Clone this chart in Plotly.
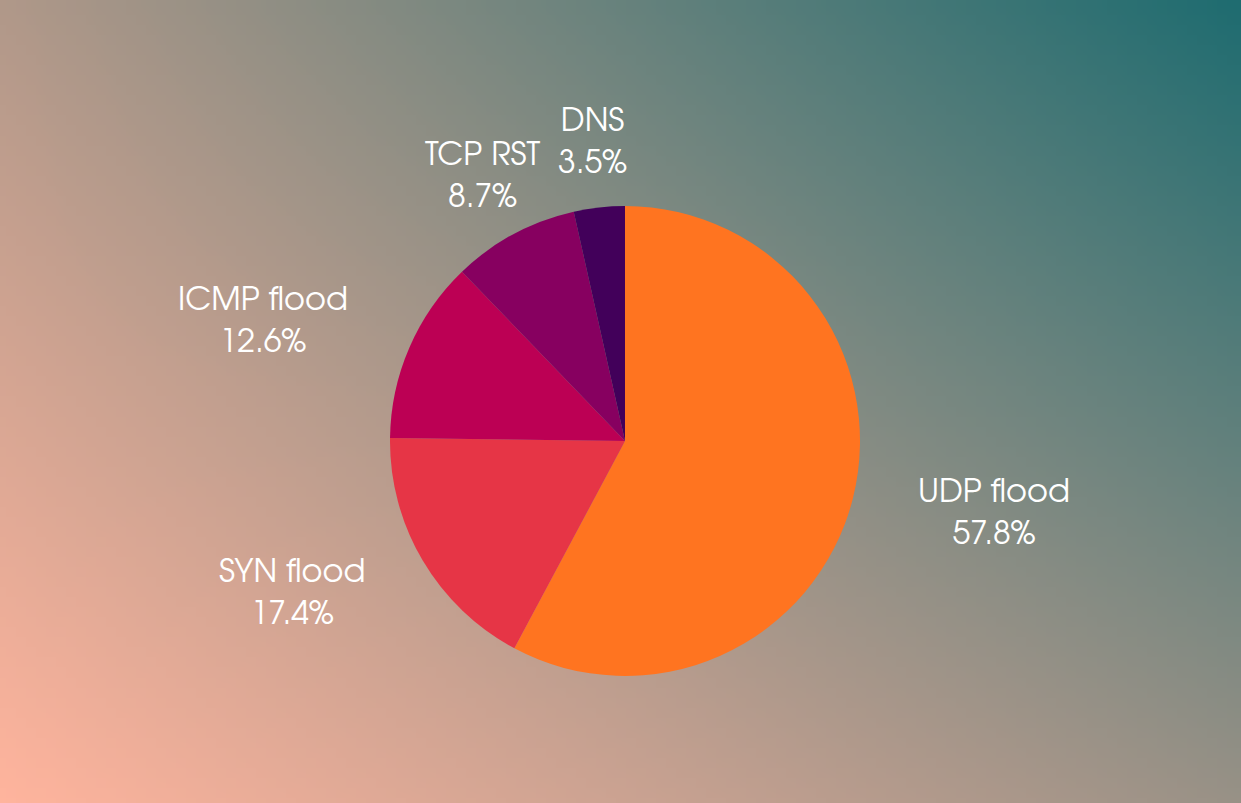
import base64
import math
import struct
import zlib

import plotly.graph_objects as go

labels = ["UDP flood", "SYN flood", "ICMP flood", "TCP RST", "DNS"]
values = [57.8, 17.4, 12.6, 8.7, 3.5]
colors = ["#FF7420", "#E63546", "#BC0054", "#870060", "#42005A"]

W, H = 1241, 803
CX, CY, R = 625, 441, 235          # pie centre / radius in px (layout)
LABEL_R = 300                       # label anchor radius in px (layout)
FONT = "Century Gothic, URW Gothic, URW Gothic L, TeX Gyre Adventor, Questrial, Lato, sans-serif"

# ---- background gradient as a small stretched PNG (bilinear corner colours) ----
corner_bl = (255, 180, 157)
corner_br = (152, 145, 134)
corner_tl = (176, 152, 137)
corner_tr = (31, 108, 112)


def make_png(w, h):
    rows = []
    for j in range(h):
        v = 1 - j / (h - 1)            # 1 at top
        row = bytearray([0])
        for i in range(w):
            u = i / (w - 1)
            px = []
            for c in range(3):
                bottom = corner_bl[c] * (1 - u) + corner_br[c] * u
                top = corner_tl[c] * (1 - u) + corner_tr[c] * u
                px.append(int(round(bottom * (1 - v) + top * v)))
            row.extend(px)
        rows.append(bytes(row))
    raw = b"".join(rows)

    def chunk(t, d):
        c = struct.pack(">I", len(d)) + t + d
        return c + struct.pack(">I", zlib.crc32(t + d) & 0xFFFFFFFF)

    png = b"\x89PNG\r\n\x1a\n"
    png += chunk(b"IHDR", struct.pack(">IIBBBBB", w, h, 8, 2, 0, 0, 0))
    png += chunk(b"IDAT", zlib.compress(raw, 9))
    png += chunk(b"IEND", b"")
    return "data:image/png;base64," + base64.b64encode(png).decode()


bg = make_png(124, 80)

fig = go.Figure()
fig.add_trace(go.Pie(
    labels=labels, values=values, sort=False, direction="clockwise", rotation=0,
    marker=dict(colors=colors, line=dict(width=0)),
    textinfo="none",
    domain=dict(x=[(CX - R) / W, (CX + R) / W], y=[1 - (CY + R) / H, 1 - (CY - R) / H]),
    showlegend=False, hoverinfo="label+percent",
))

# ---- labels placed from slice mid-angles ----
total = sum(values)
cum = 0.0
annotations = []
for lab, val in zip(labels, values):
    mid = (cum + val / 2) / total * 2 * math.pi
    cum += val
    ux, uy = math.sin(mid), -math.cos(mid)     # screen coords, y down
    ax, ay = CX + LABEL_R * ux, CY + LABEL_R * uy
    if ux > 0.7:
        xa = "left"
    elif ux < -0.7:
        xa = "right"
    else:
        xa = "center"
    annotations.append(dict(
        x=ax / W, y=1 - ay / H, xref="paper", yref="paper",
        text=f"{lab}<br>{val / total * 100:.1f}%",
        showarrow=False, xanchor=xa, yanchor="middle", align="center",
        font=dict(family=FONT, size=32, color="white"),
    ))

fig.update_layout(
    width=W, height=H,
    margin=dict(l=0, r=0, t=0, b=0),
    font=dict(family=FONT, color="white"),
    paper_bgcolor="#8E8F86",
    images=[dict(source=bg, xref="paper", yref="paper", x=0, y=1, sizex=1, sizey=1,
                 xanchor="left", yanchor="top", sizing="stretch", layer="below")],
    annotations=annotations,
)
fig.write_html("out.html")
